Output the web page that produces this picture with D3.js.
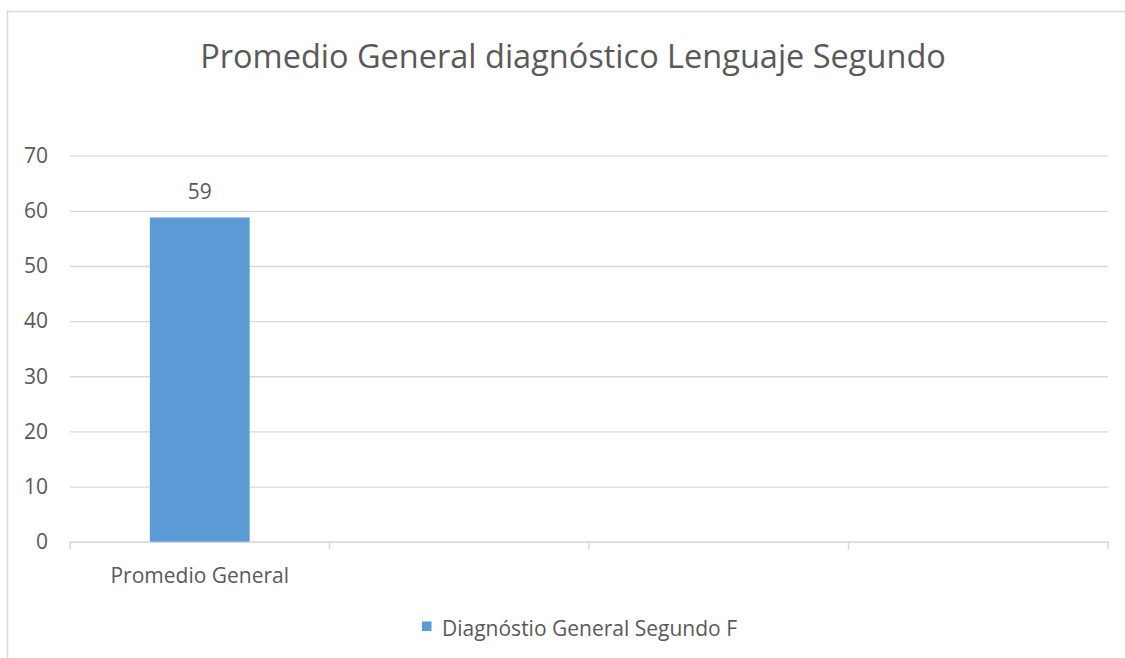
<!DOCTYPE html>
<html>
  <head>
    <meta charset="UTF-8">
    <title>Promedio General diagnóstico Lenguaje Segundo</title>
    <script src="https://d3js.org/d3.v7.min.js"></script>
    <style>
      body { margin: 0; background: #fff; }
      text { font-family: "Open Sans", sans-serif; fill: #595959; }
    </style>
  </head>
  <body>
    <div id="chart"></div>
    <script>
      // chart data
      const categories = ["Promedio General", "", "", ""];
      const values = [58.8, null, null, null];
      const yTicks = [0, 10, 20, 30, 40, 50, 60, 70];
      const seriesName = "Diagnóstio General Segundo F";
      const title = "Promedio General diagnóstico Lenguaje Segundo";

      const W = 1125, H = 658;
      const plot = {left: 70, right: 1108, top: 155.7, bottom: 541.7};
      const gridColor = "#d9d9d9";
      const barColor = "#5b9bd5";
      const labelSize = "21px";

      const svg = d3.select("#chart")
        .append("svg")
        .attr("width", W)
        .attr("height", H);

      // chart border
      svg.append("rect")
        .attr("x", 7.5)
        .attr("y", 11.5)
        .attr("width", 1140)
        .attr("height", 700)
        .attr("fill", "#fff")
        .attr("stroke", gridColor)
        .attr("stroke-width", 1.5);

      const x = d3.scaleBand()
        .domain(d3.range(categories.length))
        .range([plot.left, plot.right])
        .padding(0);

      const y = d3.scaleLinear()
        .domain([0, 70])
        .range([plot.bottom, plot.top]);

      // y axis with gridlines
      const yAxis = svg.append("g")
        .attr("transform", `translate(${plot.left},0)`)
        .call(d3.axisLeft(y).tickValues(yTicks)
          .tickSize(-(plot.right - plot.left))
          .tickPadding(22));
      yAxis.select(".domain").remove();
      yAxis.selectAll("line").attr("stroke", gridColor).attr("stroke-width", 1.3);
      yAxis.selectAll("text")
        .style("font-family", "'Open Sans', sans-serif")
        .style("font-size", labelSize)
        .attr("fill", "#595959");

      // x axis
      const xAxis = svg.append("g")
        .attr("transform", `translate(0,${plot.bottom})`)
        .call(d3.axisBottom(x).tickSize(0).tickPadding(26)
          .tickFormat(i => categories[i]));
      xAxis.select(".domain").attr("stroke", gridColor).attr("stroke-width", 1.5);
      xAxis.selectAll("text")
        .style("font-family", "'Open Sans', sans-serif")
        .style("font-size", labelSize)
        .attr("fill", "#595959");

      // category boundary ticks
      const bounds = d3.range(categories.length).map(i => x(i)).concat([x.range()[1]]);
      svg.append("g")
        .selectAll("line")
        .data(bounds)
        .join("line")
        .attr("x1", d => d)
        .attr("x2", d => d)
        .attr("y1", plot.bottom)
        .attr("y2", plot.bottom + 7.5)
        .attr("stroke", gridColor)
        .attr("stroke-width", 1.5);

      // bars (gap width 160%)
      const barW = x.bandwidth() / 2.6;
      const barData = values.map((v, i) => ({i, v})).filter(d => d.v !== null);

      svg.append("g")
        .selectAll("rect")
        .data(barData)
        .join("rect")
        .attr("x", d => x(d.i) + (x.bandwidth() - barW) / 2)
        .attr("y", d => y(d.v))
        .attr("width", barW)
        .attr("height", d => y(0) - y(d.v))
        .attr("fill", barColor);

      // data labels
      svg.append("g")
        .selectAll("text")
        .data(barData)
        .join("text")
        .attr("x", d => x(d.i) + x.bandwidth() / 2)
        .attr("y", d => y(d.v) - 18.7)
        .attr("text-anchor", "middle")
        .style("font-size", labelSize)
        .text(d => d3.format(".0f")(d.v));

      // title
      svg.append("text")
        .attr("x", 573)
        .attr("y", 68.3)
        .attr("text-anchor", "middle")
        .style("font-size", "32.5px")
        .text(title);

      // legend
      const legend = svg.append("g")
        .attr("transform", "translate(422,621.5)");
      legend.append("rect")
        .attr("width", 9.5)
        .attr("height", 9.5)
        .attr("fill", barColor);
      legend.append("text")
        .attr("x", 20)
        .attr("y", 14.5)
        .style("font-size", labelSize)
        .text(seriesName);
    </script>
  </body>
</html>
